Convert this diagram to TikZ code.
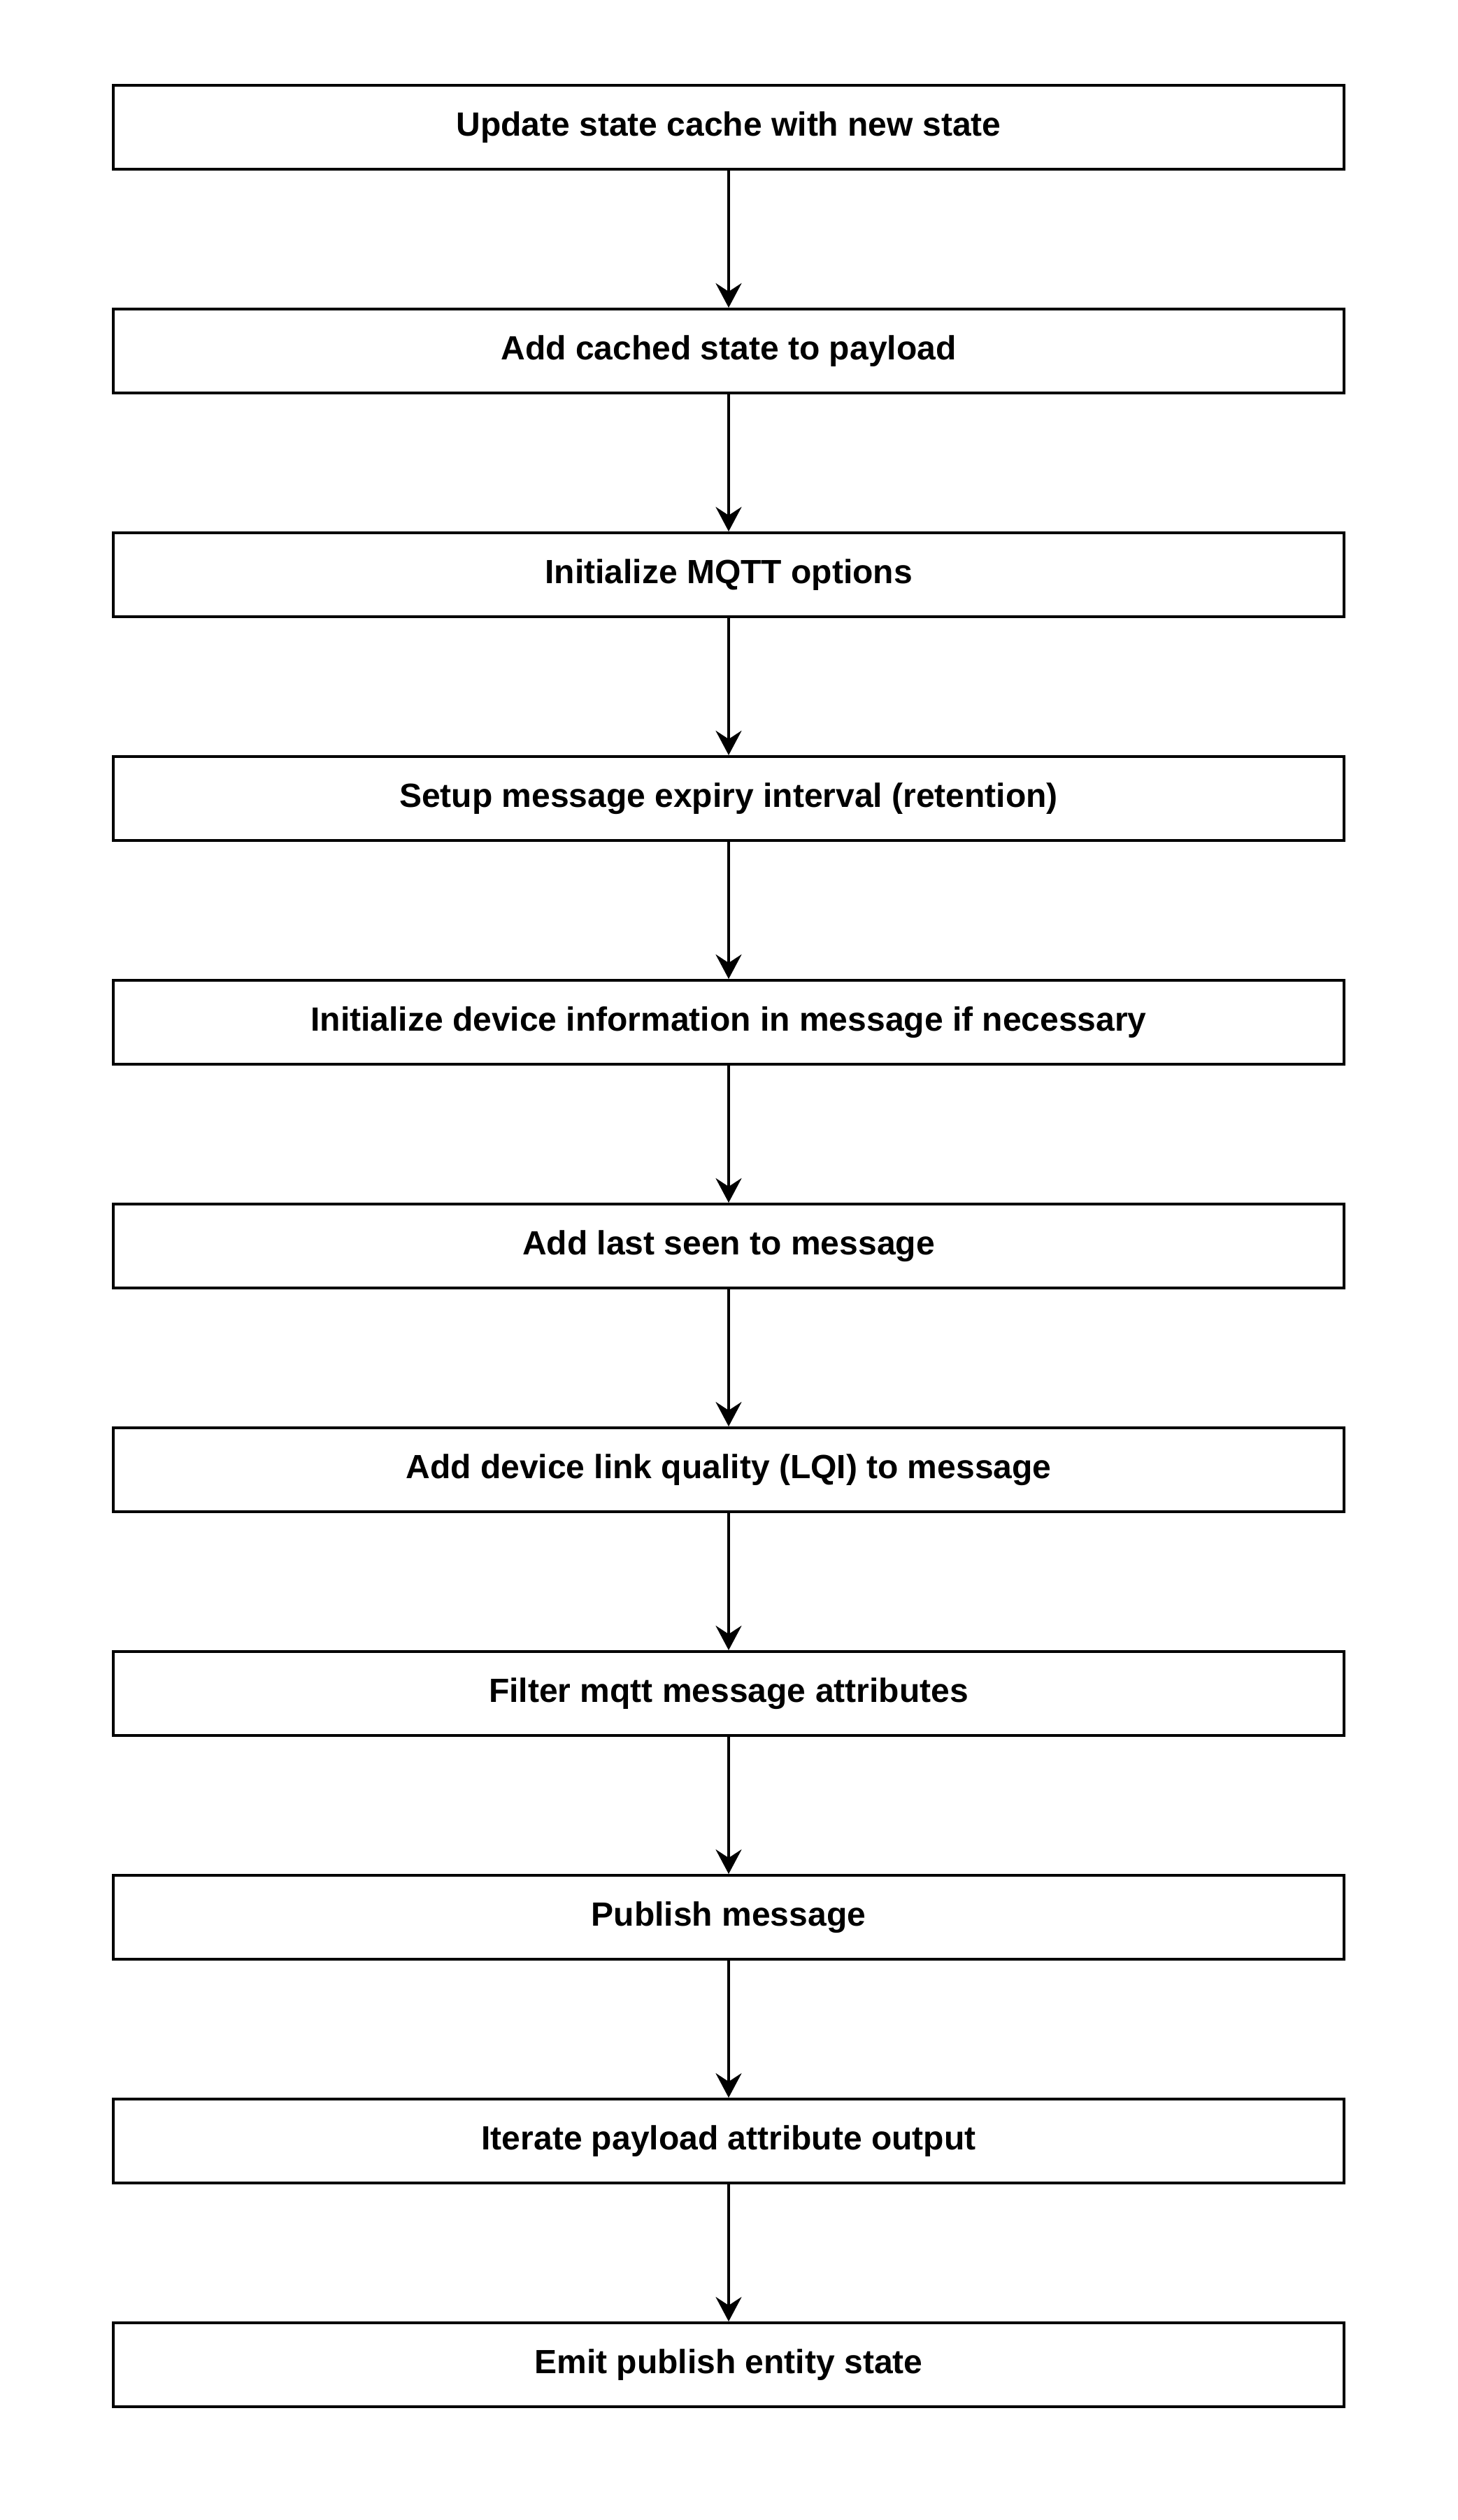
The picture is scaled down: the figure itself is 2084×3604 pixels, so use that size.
\documentclass[tikz,border=0pt]{standalone}
\usepackage{fontspec}
\setmainfont{Liberation Sans}
\usetikzlibrary{arrows.meta}
\begin{document}
\begin{tikzpicture}[x=0.5pt,y=-0.5pt,
  stepbox/.style={draw=black,line width=2pt,minimum width=880pt,minimum height=60pt,inner sep=0pt,font=\fontsize{24pt}{28pt}\selectfont\bfseries,fill=white},
  flow/.style={draw=black,line width=2pt,-{Stealth[length=17.5pt,width=18.5pt,inset=6pt]}}]
\useasboundingbox (0,0) rectangle (2084,3604);
\fill[white] (0,0) rectangle (2084,3604);
\node[stepbox] (b1) at (1042,182) {Update state cache with new state};
\node[stepbox] (b2) at (1042,502) {Add cached state to payload};
\node[stepbox] (b3) at (1042,822) {Initialize MQTT options};
\node[stepbox] (b4) at (1042,1142) {Setup message expiry interval (retention)};
\node[stepbox] (b5) at (1042,1462) {Initialize device information in message if necessary};
\node[stepbox] (b6) at (1042,1782) {Add last seen to message};
\node[stepbox] (b7) at (1042,2102) {Add device link quality (LQI) to message};
\node[stepbox] (b8) at (1042,2422) {Filter mqtt message attributes};
\node[stepbox] (b9) at (1042,2742) {Publish message};
\node[stepbox] (b10) at (1042,3062) {Iterate payload attribute output};
\node[stepbox] (b11) at (1042,3382) {Emit publish entity state};
\foreach \a/\b in {b1/b2,b2/b3,b3/b4,b4/b5,b5/b6,b6/b7,b7/b8,b8/b9,b9/b10,b10/b11}
  \draw[flow] (\a.south) -- (\b.north);
\end{tikzpicture}
\end{document}
